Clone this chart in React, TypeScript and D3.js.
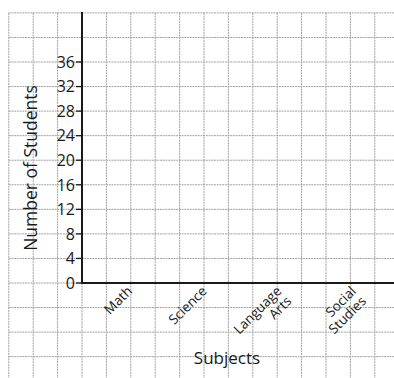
import React from "react";
import * as d3 from "d3";

const categories: string[][] = [["Math"], ["Science"], ["Language", "Arts"], ["Social", "Studies"]];
const yTicks: number[] = [0, 4, 8, 12, 16, 20, 24, 28, 32, 36];
const gridYValues: number[] = [-16, -12, -8, -4, 0, 4, 8, 12, 16, 20, 24, 28, 32, 36, 40, 44];
const gridXCells: number[] = [-3, -2, -1, 0, 1, 2, 3, 4, 5, 6, 7, 8, 9, 10, 11, 12, 13];
const yTitle = "Number of Students";
const xTitle = "Subjects";

const W = 394;
const H = 378;
const FONT = "'Open Sans', 'Noto Sans', sans-serif";

export default function App() {
  const y = d3.scaleLinear().domain([0, 36]).range([283, 62]);
  const cell = d3.scaleLinear().domain([0, 1]).range([82, 106.4]);
  const x = d3
    .scalePoint<string>()
    .domain(categories.map((c) => c.join(" ")))
    .range([133, 357]);

  const x0 = cell(0);
  const y0 = y(0);
  const yTop = y(44);
  const gridLeft = cell(-3);

  return (
    <svg
      width={W}
      height={H}
      style={{ position: "fixed", left: 0, top: 0, background: "#fff" }}
    >
      <g stroke="#a2a2a2" strokeWidth={1} strokeDasharray="2,0.7" fill="none">
        {gridYValues.map((v) => (
          <line key={"h" + v} x1={gridLeft} x2={W} y1={y(v)} y2={y(v)} />
        ))}
        {gridXCells.map((k) => (
          <line key={"v" + k} x1={cell(k)} x2={cell(k)} y1={yTop} y2={H} />
        ))}
      </g>
      <g stroke="#1a1a1a" strokeWidth={2}>
        <line x1={x0} x2={x0} y1={yTop - 1} y2={y0 + 1} />
        <line x1={x0 - 1} x2={W} y1={y0} y2={y0} />
        {yTicks.map((t) => (
          <line key={"t" + t} x1={x0 - 6} x2={x0} y1={y(t)} y2={y(t)} strokeWidth={1.3} />
        ))}
      </g>
      <g fontFamily={FONT} fontSize={16} fill="#1a1a1a" textAnchor="end">
        {yTicks.map((t) => (
          <text key={"l" + t} x={x0 - 7} y={y(t)} dy="0.36em">
            {t}
          </text>
        ))}
      </g>
      <g fontFamily={FONT} fontSize={13.5} fill="#1a1a1a" textAnchor="end">
        {categories.map((c) => {
          const key = c.join(" ");
          const ax = x(key) as number;
          const ay = y0 + 9;
          return (
            <text key={key} transform={`translate(${ax},${ay}) rotate(-45)`}>
              {c.map((line, i) => (
                <tspan key={i} x={0} dy={i === 0 ? 0 : "1.05em"}>
                  {line}
                </tspan>
              ))}
            </text>
          );
        })}
      </g>
      <text
        transform={`translate(37,${168}) rotate(-90)`}
        textAnchor="middle"
        fontFamily={FONT}
        fontSize={17.5}
        fill="#1a1a1a"
      >
        {yTitle}
      </text>
      <text
        x={227}
        y={364}
        textAnchor="middle"
        fontFamily={FONT}
        fontSize={17}
        fill="#1a1a1a"
      >
        {xTitle}
      </text>
    </svg>
  );
}
